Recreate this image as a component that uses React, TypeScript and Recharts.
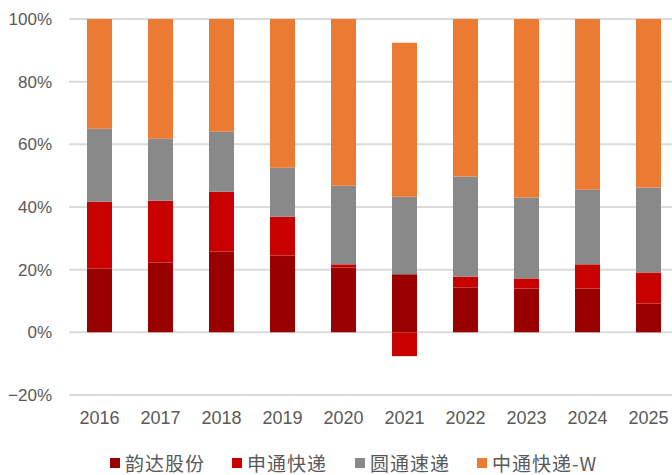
import { BarChart, Bar, XAxis, YAxis, CartesianGrid, Legend } from 'recharts';

// 年份
const years = ['2016', '2017', '2018', '2019', '2020', '2021', '2022', '2023', '2024', '2025'];

// 各公司占比 (%)
const yunda = [20.4, 22.3, 25.8, 24.5, 20.7, 18.5, 14.3, 14.0, 14.0, 9.2];
const shentong = [21.3, 19.7, 19.1, 12.4, 1.0, -7.6, 3.5, 3.2, 7.7, 9.9];
const yuantong = [23.3, 19.8, 19.1, 15.6, 25.1, 24.8, 31.9, 25.8, 23.8, 27.1];
const zhongtong = [35.0, 38.2, 36.0, 47.5, 53.2, 49.1, 50.3, 57.0, 54.5, 53.8];

const yTicks = [-20, 0, 20, 40, 60, 80, 100];

const series = [
  { key: 'yunda', name: '韵达股份', color: '#990000' },
  { key: 'shentong', name: '申通快递', color: '#C80000' },
  { key: 'yuantong', name: '圆通速递', color: '#898989' },
  { key: 'zhongtong', name: '中通快递-W', color: '#EB7A33' },
];

const data = years.map((year, i) => ({
  year,
  yunda: yunda[i],
  shentong: shentong[i],
  yuantong: yuantong[i],
  zhongtong: zhongtong[i],
}));

const legendWidths = [122, 123, 122, 130];

function LegendBox() {
  return (
    <div
      style={{
        width: 679,
        height: 24,
        display: 'flex',
        alignItems: 'center',
        paddingLeft: 110,
        boxSizing: 'border-box',
        fontFamily: '"Noto Sans CJK SC", sans-serif',
        fontSize: 19,
        color: '#595959',
      }}
    >
      {series.map((s, i) => (
        <div key={s.key} style={{ width: legendWidths[i], display: 'flex', alignItems: 'center' }}>
          <span style={{ width: 10, height: 10, background: s.color, marginRight: 5, display: 'inline-block' }} />
          <span style={{ letterSpacing: 1, whiteSpace: 'nowrap', lineHeight: '24px' }}>{s.name}</span>
        </div>
      ))}
    </div>
  );
}

export default function App() {
  return (
    <div style={{ position: 'absolute', left: 0, top: 0, width: 672, height: 475, overflow: 'hidden', background: '#fff' }}>
      <BarChart
        width={679}
        height={475}
        data={data}
        stackOffset="sign"
        margin={{ top: 19, right: 0, bottom: 0, left: 0 }}
      >
        <CartesianGrid vertical={false} stroke="#DADADA" strokeWidth={2} />
        <XAxis
          dataKey="year"
          axisLine={false}
          tickLine={false}
          tickSize={0}
          tickMargin={16}
          height={56}
          tick={{ fill: '#595959', fontSize: 18, fontFamily: '"Liberation Sans", Arial, sans-serif' }}
        />
        <YAxis
          type="number"
          domain={[-20, 100]}
          ticks={yTicks}
          allowDataOverflow
          axisLine={false}
          tickLine={false}
          tickSize={0}
          tickMargin={17}
          width={69}
          tickFormatter={(v: number) => `${v < 0 ? '−' + Math.abs(v) : v}%`}
          tick={{ fill: '#595959', fontSize: 17, fontFamily: '"Liberation Sans", Arial, sans-serif' }}
        />
        <Legend verticalAlign="bottom" height={24} content={() => <LegendBox />} />
        {series.map((s) => (
          <Bar
            key={s.key}
            dataKey={s.key}
            name={s.name}
            stackId="a"
            fill={s.color}
            barSize={25}
            isAnimationActive={false}
          />
        ))}
      </BarChart>
    </div>
  );
}
